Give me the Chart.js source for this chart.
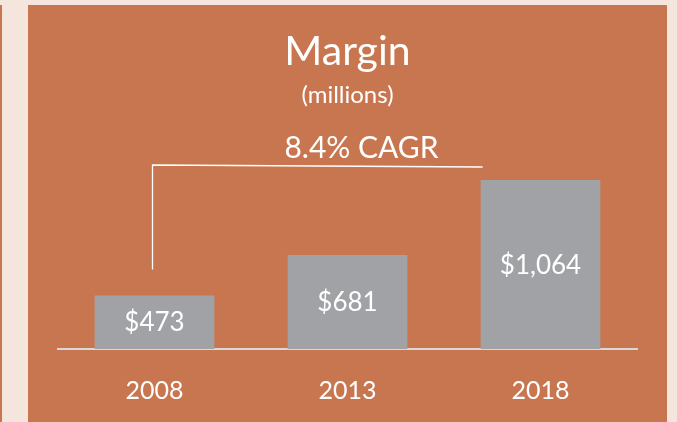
<!DOCTYPE html>
<html>
<head>
<meta charset="utf-8">
<script src="https://cdn.jsdelivr.net/npm/chart.js@4.4.1/dist/chart.umd.min.js"></script>
<style>
  html, body { margin: 0; padding: 0; background: #f4e5dd; }
  #wrap { width: 677px; height: 422px; }
</style>
</head>
<body>
<div id="wrap"><canvas id="marginChart" width="677" height="422"></canvas></div>
<script>
// dades del grafic
const years = ['2008', '2013', '2018'];
const margin = [473, 681, 1064];
const valueLabels = ['$473', '$681', '$1,064'];
const titleText = 'Margin';
const subtitleText = '(millions)';
const cagrText = '8.4% CAGR';

const ORANGE = '#c87650';
const PINK = '#f4e5dd';
const FONT = 'Lato, "Open Sans", sans-serif';

// fons i textos dibuixats a ma
const decorPlugin = {
    id: 'decor',
    beforeDraw(chart) {
        const ctx = chart.ctx;
        ctx.save();
        ctx.fillStyle = PINK;
        ctx.fillRect(0, 0, chart.width, chart.height);
        ctx.fillStyle = ORANGE;
        ctx.fillRect(0, 5, 2, chart.height - 5);
        ctx.fillRect(28, 5, 639, chart.height - 5);
        ctx.restore();
    },
    afterDatasetsDraw(chart) {
        const ctx = chart.ctx;
        const area = chart.chartArea;
        const meta = chart.getDatasetMeta(0);
        const cx = (area.left + area.right) / 2;
        ctx.save();
        ctx.fillStyle = '#ffffff';
        ctx.textAlign = 'center';
        ctx.textBaseline = 'alphabetic';

        // titol
        ctx.font = '41px ' + FONT;
        ctx.fillText(titleText, cx, 65);
        ctx.font = '24px ' + FONT;
        ctx.fillText(subtitleText, cx, 103);

        // etiquetes dins les barres
        ctx.font = '26px ' + FONT;
        meta.data.forEach((bar, i) => {
            const mid = (bar.y + Math.min(bar.base, area.bottom)) / 2;
            ctx.fillText(valueLabels[i], bar.x, mid + 9);
        });

        // claudator CAGR
        const first = meta.data[0];
        const last = meta.data[2];
        const xl = first.x - 2;
        const xr = last.x - last.width / 2 + 2;
        ctx.strokeStyle = '#ffffff';
        ctx.lineWidth = 1.3;
        ctx.beginPath();
        ctx.moveTo(xl, first.y - 26);
        ctx.lineTo(xl, 165);
        ctx.lineTo(xr, 167);
        ctx.stroke();

        ctx.font = '30px ' + FONT;
        ctx.fillText(cagrText, cx + 14, 158);
        ctx.restore();
    }
};

new Chart(document.getElementById('marginChart'), {
    type: 'bar',
    data: {
        labels: years,
        datasets: [{
            data: margin,
            backgroundColor: '#a1a2a6',
            borderWidth: 0,
            barPercentage: 0.62,
            categoryPercentage: 1.0
        }]
    },
    options: {
        responsive: false,
        animation: false,
        layout: { padding: { top: 173, left: 58, right: 40, bottom: 0 } },
        plugins: {
            legend: { display: false },
            title: { display: false },
            tooltip: { enabled: false }
        },
        scales: {
            x: {
                grid: { display: false, drawTicks: false },
                border: { display: true, color: '#d9d9d9', width: 2 },
                ticks: { color: '#ffffff', font: { family: FONT, size: 25 }, padding: 27 },
                afterFit(scale) { scale.height = 73; }
            },
            y: {
                display: false,
                min: 200,
                max: 1100
            }
        }
    },
    plugins: [decorPlugin]
});
</script>
</body>
</html>
